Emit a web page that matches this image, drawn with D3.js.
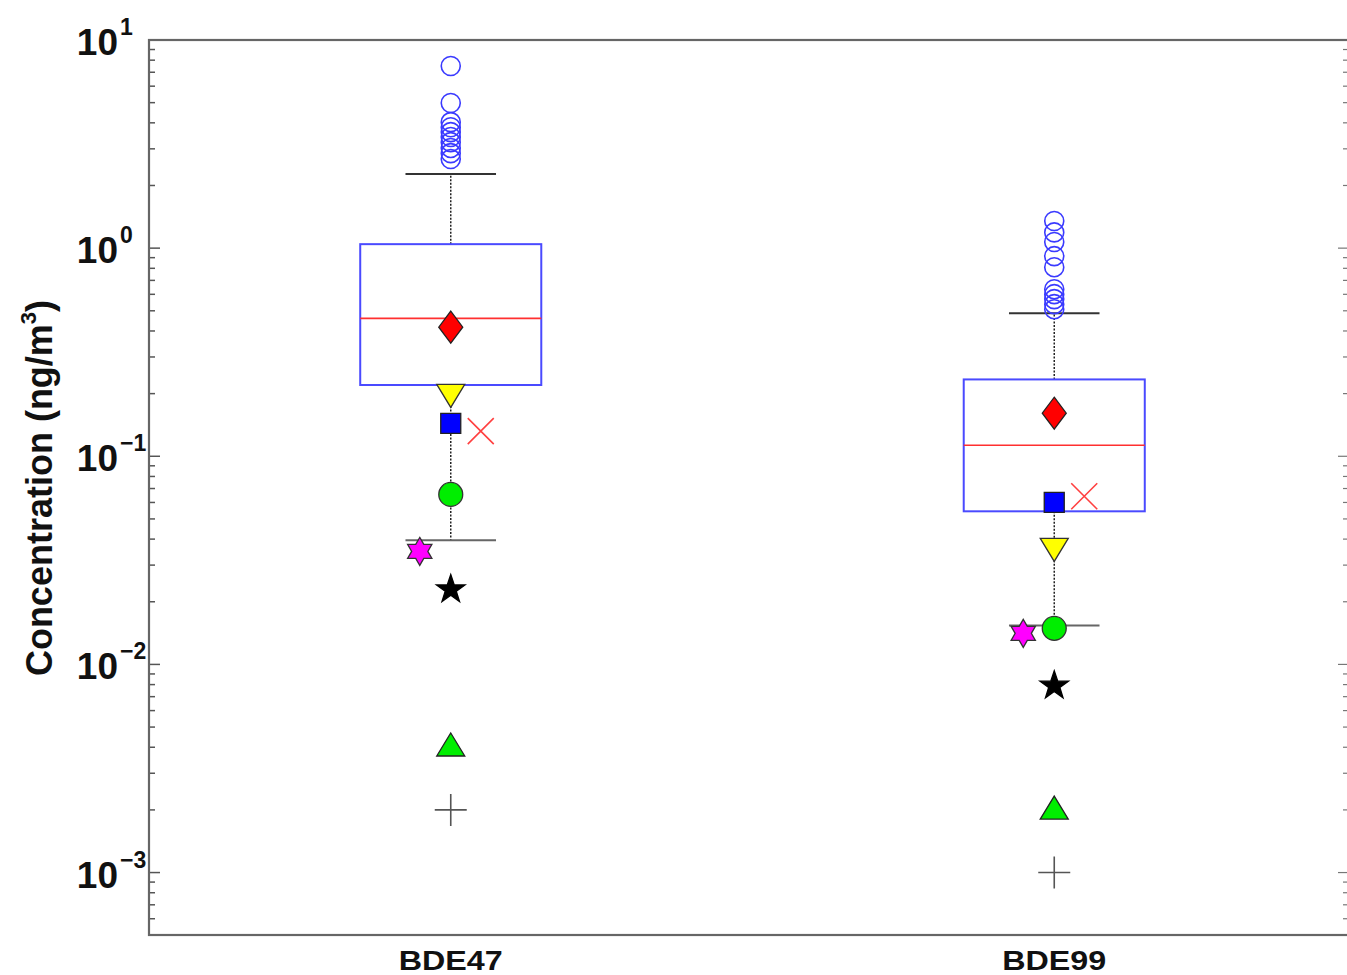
<!DOCTYPE html>
<html>
<head>
<meta charset="utf-8">
<script src="https://cdn.jsdelivr.net/npm/d3@7"></script>
<style>
body{margin:0;background:#fff;}
svg{display:block;font-family:"Liberation Sans",Arial,sans-serif;}
</style>
</head>
<body>
<svg id="chart" width="1347" height="975"></svg>
<script>
// categories and box statistics (ng/m3)
var categories=["BDE47","BDE99"];
var whiskerLow=[0.0395,0.0154];
var q1=[0.22,0.0544];
var median=[0.46,0.113];
var q3=[1.045,0.234];
var whiskerHigh=[2.27,0.487];
var outliers=[
	[7.5,4.98,4.03,3.81,3.61,3.42,3.23,3.03,2.86,2.68],
	[1.35,1.19,1.07,0.915,0.81,0.635,0.601,0.569,0.538,0.509]
];
// literature / comparison values, one per category
var diamondVals=[0.417,0.161];
var downTriVals=[0.196,0.0357];
var squareVals=[0.144,0.060];
var crossVals=[0.132,0.0643];
var circleVals=[0.0656,0.0149];
var hexVals=[0.0349,0.0141];
var starVals=[0.0229,0.0079];
var upTriVals=[0.0041,0.00204];
var plusVals=[0.002,0.001];
var yTicks=[10,1,0.1,0.01,0.001];

var svg=d3.select("#chart");
var pLeft=149,pRight=1349,pTop=40,pBottom=935;

var x=d3.scaleBand().domain(categories).range([pLeft,1356]).padding(0);
var y=d3.scaleLog().domain([Math.pow(10,-3.3),10]).range([pBottom,pTop]);
var cx=function(i){return x(categories[i])+x.bandwidth()/2;};
var boxW=x.bandwidth()*0.3, capW=x.bandwidth()*0.15;

// minor + major ticks, both sides
var allTicks=[];
for(var e=-4;e<=1;e++){
	for(var m=1;m<=9;m++){
		var v=m*Math.pow(10,e);
		if(v>=y.domain()[0]&&v<=10.0001)allTicks.push({v:v,major:m==1});
	}
}
var ticksG=svg.append("g");
ticksG.selectAll("line.l").data(allTicks).enter().append("line")
	.attr("x1",pLeft).attr("x2",function(d){return pLeft+(d.major?11:6)})
	.attr("y1",function(d){return y(d.v)}).attr("y2",function(d){return y(d.v)})
	.attr("stroke","#555").attr("stroke-width",1.5);
ticksG.selectAll("line.r").data(allTicks).enter().append("line")
	.attr("x1",pRight).attr("x2",function(d){return pRight-(d.major?11:6)})
	.attr("y1",function(d){return y(d.v)}).attr("y2",function(d){return y(d.v)})
	.attr("stroke","#777").attr("stroke-width",1.2);

// frame
svg.append("rect").attr("x",pLeft).attr("y",pTop).attr("width",pRight-pLeft).attr("height",pBottom-pTop)
	.attr("fill","none").attr("stroke","#666").attr("stroke-width",2.2);

// y tick labels with superscripts
svg.selectAll("text.yt").data(yTicks).enter().append("text")
	.attr("x",118).attr("y",function(d){return y(d)+15})
	.attr("text-anchor","end").attr("font-weight","bold").attr("font-size",37).attr("fill","#111")
	.text("10");
svg.selectAll("text.ys").data(yTicks).enter().append("text")
	.attr("x",120).attr("y",function(d){return y(d)-5})
	.attr("font-weight","bold").attr("font-size",23).attr("fill","#111")
	.text(function(d){var p=Math.round(Math.log10(d));return p<0?"\u2212"+(-p):""+p;});

// y label
var yl=svg.append("text").attr("transform","translate(52,488) rotate(-90)")
	.attr("text-anchor","middle").attr("font-weight","bold").attr("font-size",36).attr("fill","#111");
yl.append("tspan").text("Concentration (ng/m");
yl.append("tspan").attr("font-size",22).attr("dy",-16).text("3");
yl.append("tspan").attr("dy",16).text(")");

// x labels
svg.selectAll("text.xl").data(categories).enter().append("text")
	.attr("x",function(d){return x(d)+x.bandwidth()/2}).attr("y",970)
	.attr("text-anchor","middle").attr("font-weight","bold").attr("font-size",28).attr("fill","#111")
	.attr("textLength",104).attr("lengthAdjust","spacingAndGlyphs")
	.text(function(d){return d});

// boxes
var idx=d3.range(categories.length);
var bx=svg.append("g");
bx.selectAll("line.wu").data(idx).enter().append("line")
	.attr("x1",cx).attr("x2",cx).attr("y1",function(i){return y(q3[i])}).attr("y2",function(i){return y(whiskerHigh[i])})
	.attr("stroke","#222").attr("stroke-width",1.5).attr("stroke-dasharray","2,1.5");
bx.selectAll("line.wl").data(idx).enter().append("line")
	.attr("x1",cx).attr("x2",cx).attr("y1",function(i){return y(q1[i])}).attr("y2",function(i){return y(whiskerLow[i])})
	.attr("stroke","#222").attr("stroke-width",1.5).attr("stroke-dasharray","2,1.5");
bx.selectAll("line.cu").data(idx).enter().append("line")
	.attr("x1",function(i){return cx(i)-capW/2}).attr("x2",function(i){return cx(i)+capW/2})
	.attr("y1",function(i){return y(whiskerHigh[i])}).attr("y2",function(i){return y(whiskerHigh[i])})
	.attr("stroke","#333").attr("stroke-width",2);
bx.selectAll("line.cl").data(idx).enter().append("line")
	.attr("x1",function(i){return cx(i)-capW/2}).attr("x2",function(i){return cx(i)+capW/2})
	.attr("y1",function(i){return y(whiskerLow[i])}).attr("y2",function(i){return y(whiskerLow[i])})
	.attr("stroke","#666").attr("stroke-width",2);
bx.selectAll("rect").data(idx).enter().append("rect")
	.attr("x",function(i){return cx(i)-boxW/2}).attr("width",boxW)
	.attr("y",function(i){return y(q3[i])}).attr("height",function(i){return y(q1[i])-y(q3[i])})
	.attr("fill","none").attr("stroke","#4a4aff").attr("stroke-width",2);
bx.selectAll("line.md").data(idx).enter().append("line")
	.attr("x1",function(i){return cx(i)-boxW/2}).attr("x2",function(i){return cx(i)+boxW/2})
	.attr("y1",function(i){return y(median[i])}).attr("y2",function(i){return y(median[i])})
	.attr("stroke","#ff3030").attr("stroke-width",1.6);

// outliers
idx.forEach(function(i){
	svg.append("g").selectAll("circle").data(outliers[i]).enter().append("circle")
		.attr("cx",cx(i)).attr("cy",function(d){return y(d)}).attr("r",9.5)
		.attr("fill","none").attr("stroke","#3a3aff").attr("stroke-width",1.6);
});

// marker helper
var mk=function(vals,pathD,fill,stroke,dx,sw){
	svg.append("g").selectAll("path").data(idx).enter().append("path")
		.attr("transform",function(i){return "translate("+(cx(i)+dx)+","+y(vals[i])+")"})
		.attr("d",pathD).attr("fill",fill).attr("stroke",stroke).attr("stroke-width",sw||1.3);
};
var hexagram=function(){
	var p=d3.path(),R=14,r=8.1;
	for(var k=0;k<12;k++){
		var a=-Math.PI/2+k*Math.PI/6, rr=k%2?r:R;
		if(k==0)p.moveTo(rr*Math.cos(a),rr*Math.sin(a));else p.lineTo(rr*Math.cos(a),rr*Math.sin(a));
	}
	p.closePath();return p.toString();
};
mk(diamondVals,"M0,-16L12,0L0,16L-12,0Z","#ff0000","#222",0);
mk(downTriVals,"M-14,-11L14,-11L0,12Z","#ffff00","#333",0);
mk(squareVals,"M-10,-10H10V10H-10Z","#0000ff","#222",0);
mk(crossVals,"M-13,-13L13,13M13,-13L-13,13","none","#ff4040",30,1.6);
mk(circleVals,d3.symbol(d3.symbolCircle,450)(),"#00ee00","#333",0);
mk(hexVals,hexagram(),"#ff00ff","#333",-31);
mk(starVals,"M0,-15L3.5,-4.6L14.3,-4.6L5.6,1.8L8.8,12.1L0,5.8L-8.8,12.1L-5.6,1.8L-14.3,-4.6L-3.5,-4.6Z","#000","#000",0);
mk(upTriVals,"M0,-12L14,11L-14,11Z","#00ee00","#222",0);
mk(plusVals,"M-16,0H16M0,-16V16","none","#555",0,1.6);
</script>
</body>
</html>
